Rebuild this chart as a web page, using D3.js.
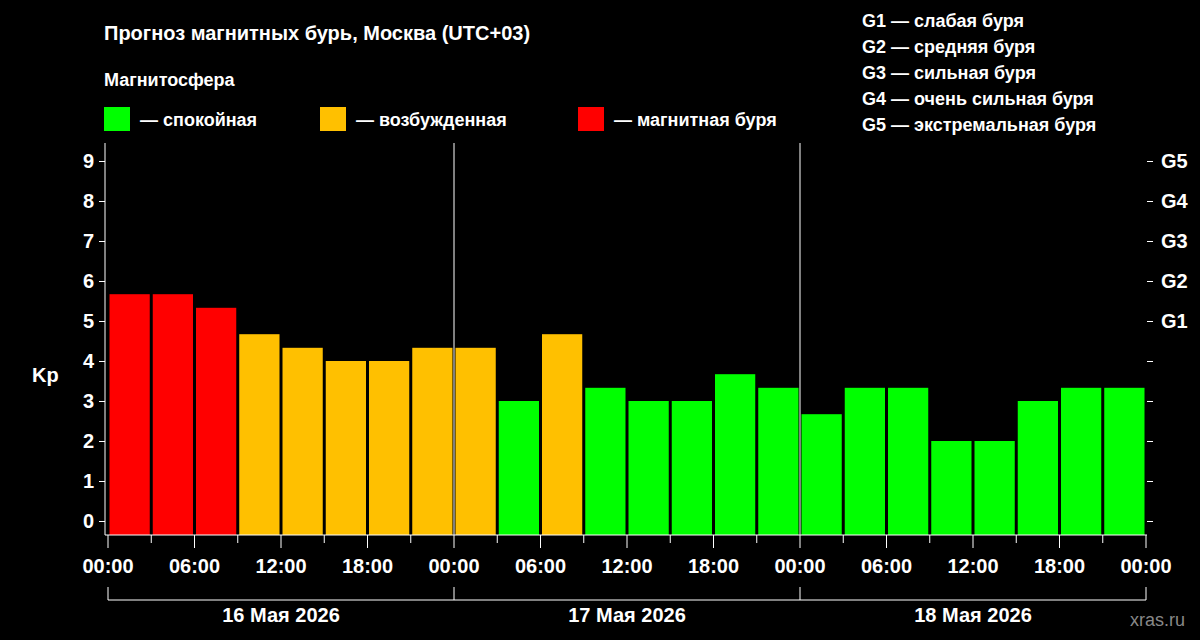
<!DOCTYPE html><html><head><meta charset="utf-8"><script src="https://cdn.jsdelivr.net/npm/d3@7"></script>
<style>body{margin:0;background:#000}text{font-family:"Liberation Sans",Arial,sans-serif;font-weight:bold;fill:#fff}</style></head><body><svg id="c" width="1200" height="640"></svg><script>
const kp=[5.67,5.67,5.33,4.67,4.33,4,4,4.33, 4.33,3,4.67,3.33,3,3,3.67,3.33, 2.67,3.33,3.33,2,2,3,3.33,3.33];
const days=["16 Мая 2026","17 Мая 2026","18 Мая 2026"];
const hourLabels=["00:00","06:00","12:00","18:00"];
const gLabels=["G1","G2","G3","G4","G5"];
const legendItems=[["— спокойная","#00ff00"],["— возбужденная","#ffc000"],["— магнитная буря","#ff0000"]];
const gText=["G1 — слабая буря","G2 — средняя буря","G3 — сильная буря","G4 — очень сильная буря","G5 — экстремальная буря"];
const svg=d3.select("#c");
const x=d3.scaleLinear().domain([0,72]).range([108,1146]);
const y=d3.scaleLinear().domain([0,9]).range([521,161]);
const col=v=>v>=5?"#ff0000":v>=4?"#ffc000":"#00ff00";
svg.append("g").selectAll("rect").data(kp).join("rect")
 .attr("x",(d,i)=>x(i*3)+1.5).attr("width",(d,i)=>x(i*3+3)-x(i*3)-3)
 .attr("y",d=>y(d)).attr("height",d=>535-y(d)).attr("fill",d=>col(d));
svg.append("g").selectAll("line").data([24,48]).join("line").attr("x1",d=>x(d)).attr("x2",d=>x(d)).attr("y1",143).attr("y2",535).attr("stroke","#fff");
// left axis
const gl=svg.append("g").attr("transform","translate(105,0)").call(d3.axisLeft(y).ticks(9).tickSize(6).tickPadding(5));
gl.select(".domain").attr("d","M0,143V535").attr("stroke","#fff");
gl.selectAll(".tick line").attr("stroke","#fff");gl.selectAll(".tick text").style("font-size","20px").attr("fill","#fff");
// right ticks
const gr=svg.append("g").attr("transform","translate(1147,0)").call(d3.axisRight(y).ticks(9).tickSize(6).tickFormat((d)=>d>=5?gLabels[d-5]:"").tickPadding(8));
gr.select(".domain").remove();gr.selectAll(".tick line").attr("stroke","#fff");gr.selectAll(".tick text").style("font-size","20px").attr("fill","#fff");
// bottom
svg.append("line").attr("x1",105).attr("x2",1147).attr("y1",535).attr("y2",535).attr("stroke","#fff");
const tk=d3.range(0,73,3);
svg.append("g").selectAll("line").data(tk).join("line").attr("x1",d=>x(d)).attr("x2",d=>x(d)).attr("y1",535).attr("y2",d=>d%6==0?548:543).attr("stroke","#fff");
svg.append("g").selectAll("text").data(d3.range(0,73,6)).join("text").attr("x",d=>x(d)).attr("y",573).attr("text-anchor","middle").style("font-size","20px").text(d=>hourLabels[(d%24)/6]);
svg.append("path").attr("d",`M${x(0)},587V600H${x(72)}V587`).attr("fill","none").attr("stroke","#fff");
svg.append("g").selectAll("line").data([24,48]).join("line").attr("x1",d=>x(d)).attr("x2",d=>x(d)).attr("y1",587).attr("y2",600).attr("stroke","#fff");
svg.append("g").selectAll("text").data(days).join("text").attr("x",(d,i)=>x(i*24+12)).attr("y",622).attr("text-anchor","middle").style("font-size","20px").text(d=>d);
svg.append("text").attr("x",32).attr("y",382).style("font-size","20px").text("Kp");
svg.append("text").attr("x",104).attr("y",40).style("font-size","20px").text("Прогноз магнитных бурь, Москва (UTC+03)");
svg.append("text").attr("x",104).attr("y",86).style("font-size","18px").text("Магнитосфера");
const lg=svg.append("g").selectAll("g").data(legendItems).join("g").attr("transform",(d,i)=>`translate(${[104,320,578][i]},107)`);
lg.append("rect").attr("width",26).attr("height",24).attr("fill",d=>d[1]);
lg.append("text").attr("x",36).attr("y",19).style("font-size",  "18px").text(d=>d[0]);
svg.append("g").selectAll("text").data(gText).join("text").attr("x",862).attr("y",(d,i)=>27+i*26).style("font-size","18px").text(d=>d);
svg.append("text").attr("x",1185).attr("y",626).attr("text-anchor","end").style("font-size","18px").style("font-weight","normal").attr("fill","#888").style("fill","#888").text("xras.ru");
</script></body></html>
